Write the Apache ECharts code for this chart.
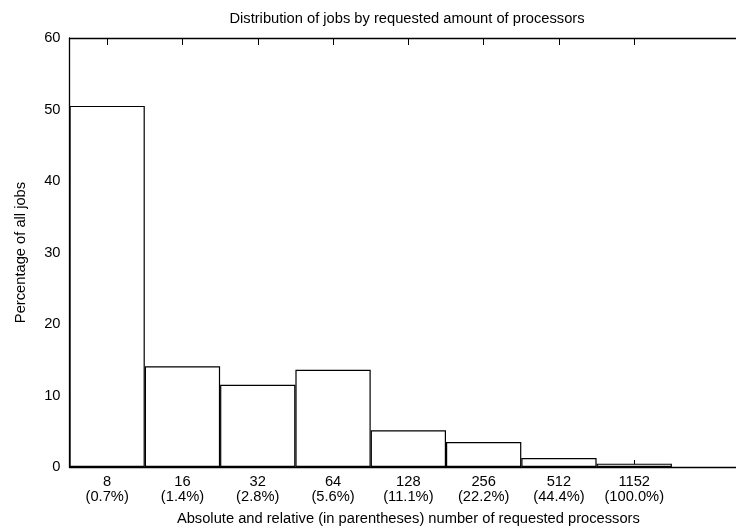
<!DOCTYPE html>
<html>
<head>
<meta charset="utf-8">
<script src="https://cdn.jsdelivr.net/npm/echarts@6/dist/echarts.min.js"></script>
<style>html,body{margin:0;padding:0;background:#fff;overflow:hidden}#c{width:750px;height:531px}</style>
</head>
<body>
<div id="c"></div>
<script>
var processors = ['8', '16', '32', '64', '128', '256', '512', '1152', ''];
var relative = ['0.7%', '1.4%', '2.8%', '5.6%', '11.1%', '22.2%', '44.4%', '100.0%', ''];
var percentages = [50.5, 14.1, 11.5, 13.6, 5.15, 3.5, 1.25, 0.47];
var yTicks = [0, 10, 20, 30, 40, 50, 60];

var FONT = 'Liberation Sans';
var FS = 14.7;
var labels = processors.map(function (p, i) { return p ? p + '\n(' + relative[i] + ')' : ''; });

var chart = echarts.init(document.getElementById('c'), null, {renderer: 'canvas'});
chart.setOption({
  animation: false,
  backgroundColor: '#fff',
  textStyle: {fontFamily: FONT, color: '#000'},
  title: {
    text: 'Distribution of jobs by requested amount of processors',
    left: 402, top: 6, textAlign: 'center',
    textStyle: {fontFamily: FONT, fontSize: FS, fontWeight: 'normal', color: '#000'}
  },
  grid: {left: 69.5, top: 38, height: 430.7, width: 677.7, containLabel: false},
  xAxis: [{
    type: 'category',
    data: labels,
    position: 'bottom',
    boundaryGap: true,
    axisLine: {show: true, lineStyle: {color: '#000', width: 1.3}},
    axisTick: {show: true, inside: true, length: 7, alignWithLabel: true,
      interval: function (i) { return i < 8; }, lineStyle: {color: '#000'}},
    axisLabel: {fontFamily: FONT, fontSize: FS, color: '#000', lineHeight: 15, margin: 7.5, interval: 0},
    name: 'Absolute and relative (in parentheses) number of requested processors',
    nameLocation: 'middle', nameGap: 44,
    nameTextStyle: {fontFamily: FONT, fontSize: FS, color: '#000'}
  }, {
    type: 'category',
    data: labels,
    position: 'top',
    boundaryGap: true,
    axisLine: {show: true, lineStyle: {color: '#000', width: 1.3}},
    axisTick: {show: true, inside: true, length: 7, alignWithLabel: true,
      interval: function (i) { return i < 8; }, lineStyle: {color: '#000'}},
    axisLabel: {show: false}
  }],
  yAxis: [{
    type: 'value',
    min: 0, max: 60, interval: 10,
    axisLine: {show: true, lineStyle: {color: '#000', width: 1.3}},
    axisTick: {show: true, inside: true, length: 7, lineStyle: {color: '#000'}},
    axisLabel: {fontFamily: FONT, fontSize: FS, color: '#000', margin: 9,
      formatter: function (v) { return yTicks.indexOf(v) >= 0 ? String(v) : ''; }},
    splitLine: {show: false},
    name: 'Percentage of all jobs',
    nameLocation: 'middle', nameGap: 41, nameRotate: 90,
    nameTextStyle: {fontFamily: FONT, fontSize: FS, color: '#000'}
  }],
  series: [{
    type: 'bar',
    data: percentages,
    barWidth: '100%',
    barCategoryGap: '0%',
    itemStyle: {color: '#fff', borderColor: '#000', borderWidth: 1.2}
  }]
});
</script>
</body>
</html>
